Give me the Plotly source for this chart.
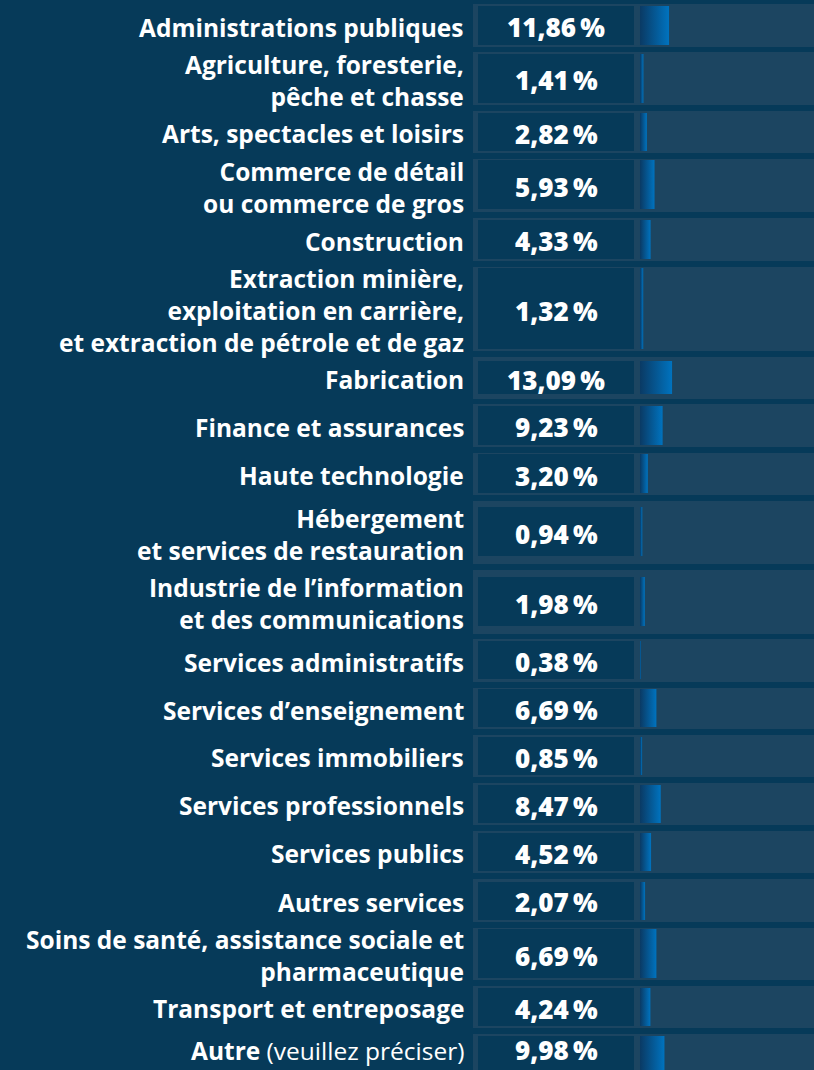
import plotly.graph_objects as go

# ---- data ----
categories = [
    "Administrations publiques",
    "Agriculture, foresterie,<br>pêche et chasse",
    "Arts, spectacles et loisirs",
    "Commerce de détail<br>ou commerce de gros",
    "Construction",
    "Extraction minière,<br>exploitation en carrière,<br>et extraction de pétrole et de gaz",
    "Fabrication",
    "Finance et assurances",
    "Haute technologie",
    "Hébergement<br>et services de restauration",
    "Industrie de l’information<br>et des communications",
    "Services administratifs",
    "Services d’enseignement",
    "Services immobiliers",
    "Services professionnels",
    "Services publics",
    "Autres services",
    "Soins de santé, assistance sociale et<br>pharmaceutique",
    "Transport et entreposage",
    "<b>Autre</b> (veuillez préciser)",
]
values = [11.86, 1.41, 2.82, 5.93, 4.33, 1.32, 13.09, 9.23, 3.20, 0.94,
          1.98, 0.38, 6.69, 0.85, 8.47, 4.52, 2.07, 6.69, 4.24, 9.98]
value_labels = [f"{v:.2f}".replace(".", ",") + "\u2009%" for v in values]

# ---- layout (pixel rows) ----
W, H = 814, 1070
track_top = [4, 52, 111, 159, 218, 267, 357, 404, 453, 501, 570, 639, 688, 735, 783, 831, 879, 928, 986, 1034]
track_bot = [47, 105, 153, 212, 261, 351, 399, 447, 495, 564, 634, 682, 729, 777, 825, 873, 922, 980, 1028, 1080]
box_top = [6, 54, 113, 160, 220, 268, 361, 406, 454, 507, 577, 641, 689, 737, 785, 833, 882, 929, 988, 1036]
box_bot = [45, 103, 151, 209, 259, 349, 394, 445, 493, 556, 626, 679, 727, 775, 823, 871, 920, 978, 1026, 1076]

BG = "#063a59"
TRACK = "#1c4561"
LABEL_RIGHT = 466
TRACK_LEFT = 473
BOX_LEFT, BOX_RIGHT = 478, 634
BAR_LEFT = 640
PX_PER_PCT = 2.45
LABEL_FONT = "Open Sans"
VALUE_FONT = "Open Sans"

fig = go.Figure()

shapes = []
annotations = []
n = len(categories)
for i, (cat, val, lab) in enumerate(zip(categories, values, value_labels)):
    shapes.append(dict(type="rect", xref="paper", yref="y", x0=TRACK_LEFT / W, x1=1,
                       y0=track_top[i], y1=track_bot[i], fillcolor=TRACK, line_width=0, layer="below"))
    shapes.append(dict(type="rect", xref="paper", yref="y", x0=BOX_LEFT / W, x1=BOX_RIGHT / W,
                       y0=box_top[i], y1=box_bot[i], fillcolor=BG, line_width=0, layer="below"))
    last = i == n - 1
    yc = (box_top[i] + 1064) / 2 if last else (track_top[i] + track_bot[i]) / 2 + 1.5
    annotations.append(dict(xref="paper", yref="y", x=LABEL_RIGHT / W, y=yc, text=cat,
                            xanchor="right", yanchor="middle", align="right", showarrow=False,
                            font=dict(family=LABEL_FONT, size=24.5, color="white",
                                      weight="normal" if last else "bold")))
    annotations.append(dict(xref="paper", yref="y", x=(BOX_LEFT + BOX_RIGHT) / 2 / W, y=yc,
                            text=lab, xanchor="center", yanchor="middle", showarrow=False,
                            font=dict(family=VALUE_FONT, size=26, color="white", weight=800)))
    # gradient bar drawn from the value
    fig.add_trace(go.Scatter(
        x=[0, val, val, 0, 0],
        y=[box_top[i], box_top[i], box_bot[i], box_bot[i], box_top[i]],
        mode="lines", line=dict(width=0), fill="toself",
        fillgradient=dict(type="horizontal",
                          colorscale=[[0, "#0a3a64"], [1, "#0073bf"]]),
        hoverinfo="skip", showlegend=False,
    ))

fig.update_layout(
    width=W, height=H,
    margin=dict(l=0, r=0, t=0, b=0),
    paper_bgcolor=BG, plot_bgcolor="rgba(0,0,0,0)",
    shapes=shapes, annotations=annotations, showlegend=False,
    xaxis=dict(domain=[BAR_LEFT / W, 1], range=[0, (W - BAR_LEFT) / PX_PER_PCT],
               visible=False, fixedrange=True),
    yaxis=dict(range=[H, 0], visible=False, fixedrange=True),
)

fig.write_html("out.html", config={"displayModeBar": False})

# remove the browser's default page margin so the chart fills the window
with open("out.html", encoding="utf-8") as f:
    html = f.read()
html = html.replace("<head>", "<head><style>html,body{margin:0;padding:0;background:%s;overflow:hidden}</style>" % BG, 1)
with open("out.html", "w", encoding="utf-8") as f:
    f.write(html)
